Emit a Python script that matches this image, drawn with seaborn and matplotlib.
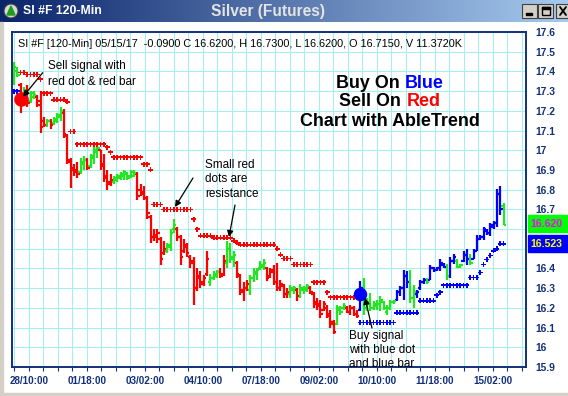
import numpy as np
import pandas as pd
import matplotlib
matplotlib.use("Agg")
import matplotlib.pyplot as plt
import seaborn as sns
from matplotlib.patches import Rectangle, Circle, Polygon
from matplotlib.colors import LinearSegmentedColormap
from matplotlib.offsetbox import TextArea, HPacker, AnnotationBbox

# ---------------- data (120-min bars) ----------------
trend = (
    ["G", "G", "R", "G", "R", "G", "G", "R", "R", "R"] +
    ["G", "R", "G", "G", "G", "R", "R", "R", "R", "R"] +
    ["G", "G", "R", "G", "G", "G", "R", "R", "R", "R"] +
    ["G", "G", "G", "G", "G", "G", "G", "R", "R", "R"] +
    ["R", "R", "R", "R", "R", "R", "G", "G", "G", "R"] +
    ["R", "R", "R", "R", "R", "R", "R", "R", "R", "G"] +
    ["G", "G", "R", "R", "G", "G", "G", "R", "R", "R"] +
    ["R", "G", "G", "G", "G", "G", "R", "R", "R", "R"] +
    ["R", "R", "R", "G", "G", "R", "G", "G", "G", "R"] +
    ["R", "R", "R", "R", "R", "R", "R", "G", "G", "G"] +
    ["R", "R", "R", "R", "B", "G", "G", "G", "G", "G"] +
    ["G", "G", "G", "G", "G", "B", "B", "B", "B", "G"] +
    ["G", "B", "B", "B", "G", "B", "B", "B", "B", "B"] +
    ["G", "B", "B", "G", "G", "B", "B", "G", "B", "B"] +
    ["B", "B", "B", "B", "B", "B", "B", "G"]
)
opens = [
    17.36, 17.40, 17.33, 17.26, 17.30, 17.25, 17.27, 17.27, 17.25, 17.15,
    17.13, 17.15, 17.14, 17.15, 17.17, 17.19, 17.07, 16.94, 16.91, 16.90,
    16.89, 16.93, 16.95, 16.92, 16.96, 16.99, 17.00, 16.93, 16.87, 16.84,
    16.84, 16.85, 16.86, 16.87, 16.88, 16.87, 16.87, 16.88, 16.80, 16.79,
    16.76, 16.66, 16.56, 16.56, 16.55, 16.48, 16.49, 16.51, 16.60, 16.60,
    16.56, 16.49, 16.51, 16.46, 16.44, 16.30, 16.35, 16.33, 16.37, 16.33,
    16.35, 16.36, 16.38, 16.37, 16.43, 16.50, 16.45, 16.43, 16.36, 16.28,
    16.30, 16.29, 16.35, 16.37, 16.40, 16.41, 16.40, 16.36, 16.39, 16.33,
    16.30, 16.31, 16.27, 16.27, 16.29, 16.29, 16.26, 16.29, 16.29, 16.30,
    16.27, 16.23, 16.22, 16.19, 16.20, 16.17, 16.13, 16.12, 16.19, 16.20,
    16.20, 16.18, 16.20, 16.17, 16.19, 16.30, 16.20, 16.22, 16.20, 16.21,
    16.22, 16.23, 16.18, 16.20, 16.23, 16.24, 16.28, 16.30, 16.36, 16.33,
    16.25, 16.27, 16.30, 16.33, 16.34, 16.34, 16.40, 16.39, 16.40, 16.42,
    16.41, 16.36, 16.44, 16.44, 16.41, 16.44, 16.47, 16.45, 16.45, 16.49,
    16.55, 16.56, 16.59, 16.58, 16.61, 16.63, 16.78, 16.715,
]
highs = [
    17.45, 17.42, 17.34, 17.32, 17.33, 17.30, 17.30, 17.28, 17.30, 17.17,
    17.16, 17.16, 17.17, 17.19, 17.22, 17.21, 17.08, 16.96, 16.93, 16.94,
    16.96, 16.97, 16.96, 16.98, 17.02, 17.03, 17.00, 16.98, 16.90, 16.88,
    16.87, 16.88, 16.89, 16.90, 16.89, 16.90, 16.90, 16.89, 16.83, 16.82,
    16.77, 16.67, 16.60, 16.60, 16.56, 16.54, 16.53, 16.60, 16.65, 16.61,
    16.57, 16.55, 16.53, 16.47, 16.46, 16.40, 16.385, 16.365, 16.49, 16.37,
    16.385, 16.39, 16.40, 16.47, 16.54, 16.53, 16.49, 16.44, 16.37, 16.33,
    16.34, 16.365, 16.40, 16.40, 16.44, 16.45, 16.41, 16.40, 16.42, 16.43,
    16.34, 16.32, 16.30, 16.315, 16.31, 16.30, 16.32, 16.31, 16.32, 16.31,
    16.28, 16.25, 16.24, 16.235, 16.215, 16.19, 16.14, 16.215, 16.21, 16.225,
    16.21, 16.215, 16.21, 16.19, 16.335, 16.35, 16.25, 16.275, 16.235, 16.24,
    16.26, 16.235, 16.215, 16.24, 16.24, 16.29, 16.31, 16.39, 16.385, 16.39,
    16.315, 16.29, 16.34, 16.35, 16.35, 16.42, 16.41, 16.41, 16.45, 16.43,
    16.425, 16.46, 16.475, 16.45, 16.425, 16.49, 16.50, 16.475, 16.50, 16.57,
    16.57, 16.61, 16.60, 16.63, 16.64, 16.805, 16.82, 16.73,
]
lows = [
    17.33, 17.37, 17.19, 17.25, 17.22, 17.24, 17.26, 17.22, 17.09, 17.12,
    17.12, 17.11, 17.13, 17.14, 17.15, 17.06, 16.93, 16.81, 16.87, 16.86,
    16.88, 16.90, 16.90, 16.91, 16.93, 16.96, 16.90, 16.84, 16.80, 16.82,
    16.83, 16.84, 16.85, 16.85, 16.85, 16.86, 16.865, 16.745, 16.77, 16.75,
    16.65, 16.53, 16.54, 16.53, 16.42, 16.47, 16.48, 16.49, 16.58, 16.54,
    16.42, 16.48, 16.46, 16.40, 16.215, 16.285, 16.30, 16.31, 16.36, 16.31,
    16.34, 16.35, 16.35, 16.36, 16.40, 16.43, 16.41, 16.35, 16.265, 16.235,
    16.285, 16.265, 16.33, 16.34, 16.39, 16.39, 16.335, 16.35, 16.315, 16.285,
    16.285, 16.25, 16.25, 16.25, 16.27, 16.235, 16.25, 16.27, 16.28, 16.27,
    16.20, 16.19, 16.15, 16.185, 16.15, 16.10, 16.065, 16.115, 16.165, 16.19,
    16.175, 16.165, 16.16, 16.15, 16.185, 16.165, 16.185, 16.185, 16.19, 16.19,
    16.185, 16.19, 16.165, 16.19, 16.22, 16.235, 16.26, 16.24, 16.30, 16.225,
    16.20, 16.25, 16.29, 16.32, 16.32, 16.34, 16.38, 16.385, 16.385, 16.40,
    16.34, 16.35, 16.425, 16.40, 16.40, 16.435, 16.42, 16.42, 16.45, 16.49,
    16.545, 16.545, 16.57, 16.565, 16.60, 16.61, 16.67, 16.62,
]
closes = [
    17.42, 17.38, 17.25, 17.30, 17.24, 17.29, 17.28, 17.23, 17.12, 17.13,
    17.15, 17.13, 17.16, 17.18, 17.20, 17.08, 16.95, 16.90, 16.89, 16.88,
    16.94, 16.95, 16.91, 16.97, 17.00, 17.01, 16.92, 16.86, 16.83, 16.85,
    16.86, 16.87, 16.88, 16.89, 16.86, 16.89, 16.885, 16.77, 16.78, 16.76,
    16.68, 16.56, 16.57, 16.58, 16.45, 16.50, 16.52, 16.58, 16.62, 16.56,
    16.46, 16.52, 16.48, 16.43, 16.30, 16.36, 16.32, 16.35, 16.45, 16.35,
    16.37, 16.38, 16.36, 16.44, 16.50, 16.46, 16.47, 16.37, 16.29, 16.30,
    16.32, 16.35, 16.38, 16.39, 16.42, 16.43, 16.35, 16.38, 16.33, 16.30,
    16.32, 16.27, 16.28, 16.30, 16.30, 16.26, 16.30, 16.30, 16.31, 16.28,
    16.22, 16.21, 16.17, 16.22, 16.16, 16.12, 16.08, 16.20, 16.18, 16.21,
    16.18, 16.20, 16.17, 16.16, 16.30, 16.20, 16.23, 16.20, 16.22, 16.22,
    16.24, 16.20, 16.20, 16.23, 16.235, 16.28, 16.30, 16.36, 16.33, 16.25,
    16.28, 16.28, 16.33, 16.34, 16.33, 16.40, 16.39, 16.40, 16.43, 16.41,
    16.36, 16.44, 16.46, 16.41, 16.42, 16.47, 16.45, 16.43, 16.49, 16.55,
    16.56, 16.60, 16.58, 16.62, 16.63, 16.78, 16.70, 16.62,
]
# resistance (red) dots start at bar 2, support (blue) dots at bars 0-1 and from bar 104
red_dot_start = 2
red_dots = (
    [17.395] * 2 + [17.385] * 4 + [17.36] + [17.29] * 3 + [17.255] * 4 +
    [17.245] + [17.095] * 2 + [17.03] * 9 + [17.015] + [16.99] +
    [16.965] * 9 + [16.93] * 2 + [16.90] + [16.725] * 3 + [16.70] * 9 +
    [16.65] + [16.60] + [16.565] * 4 + [16.555] * 6 + [16.54] + [16.53] +
    [16.52] * 11 + [16.50] + [16.47] + [16.45] * 3 + [16.42] * 6 +
    [16.33] * 4 + [16.28] + [16.255] * 9
)
blue_dot_idx_early = [0, 1]
blue_dots_early = [17.30, 17.30]
blue_dot_start = 104
blue_dots = (
    [16.125] * 11 + [16.175] * 7 + [16.235] * 5 + [16.265] + [16.28] +
    [16.315] * 8 + [16.355] * 3 + [16.38] + [16.42] + [16.445] + [16.465] +
    [16.49] + [16.50] + [16.525] * 2
)
sell_signal = (2, 17.26)
buy_signal = (104, 16.27)
y_tick_values = [17.6, 17.5, 17.4, 17.3, 17.2, 17.1, 17.0, 16.9, 16.8, 16.7,
                 16.6, 16.5, 16.4, 16.3, 16.2, 16.1, 16.0, 15.9]
y_tick_labels = ["17.6", "17.5", "17.4", "17.3", "17.2", "17.1", "17", "16.9", "16.8",
                 "16.7", "", "", "16.4", "16.3", "16.2", "16.1", "16", "15.9"]
x_labels = ["28/10:00", "01/18:00", "03/02:00", "04/10:00", "07/18:00",
            "09/02:00", "10/10:00", "11/18:00", "15/02:00"]
last_close_label = "16.620"
last_stop_label = "16.523"
info_text = ("SI #F [120-Min] 05/15/17  -0.0900 C 16.6200, H 16.7300, "
             "L 16.6200, O 16.7150, V 11.3720K")

# ---------------- style ----------------
sns.set_theme(style="white")
plt.rcParams["font.family"] = ["Liberation Sans", "DejaVu Sans"]

NAVY = "#12307A"
GRID = "#A8EEEE"
palette = {"G": "#22E622", "R": "#FF0000", "B": "#0000FF"}

n = len(closes)
bars = pd.DataFrame({"idx": np.arange(n), "open": opens, "high": highs,
                     "low": lows, "close": closes, "trend": trend})
bar_colors = bars["trend"].map(palette).tolist()

dots = pd.concat([
    pd.DataFrame({"idx": np.arange(red_dot_start, red_dot_start + len(red_dots)),
                  "value": red_dots, "kind": "res"}),
    pd.DataFrame({"idx": blue_dot_idx_early, "value": blue_dots_early, "kind": "sup"}),
    pd.DataFrame({"idx": np.arange(blue_dot_start, blue_dot_start + len(blue_dots)),
                  "value": blue_dots, "kind": "sup"}),
], ignore_index=True)

W, H = 568, 396
fig = plt.figure(figsize=(W / 100, H / 100), dpi=100)
fig.patch.set_facecolor("white")

# chrome layer in pixel coordinates
chrome = fig.add_axes([0, 0, 1, 1], zorder=0)
cmap = LinearSegmentedColormap.from_list("tb", ["#0A246A", "#A6CAF0"])
chrome.imshow(np.linspace(0, 1, 256).reshape(1, -1), extent=[0, W, 22, 0],
              aspect="auto", cmap=cmap, zorder=1)
chrome.set_xlim(0, W)
chrome.set_ylim(H, 0)
chrome.axis("off")
# left / bottom window frame
chrome.add_patch(Rectangle((0, 22), 3, H - 22, color="#D4D0C8", zorder=1))
chrome.add_patch(Rectangle((0, H - 3), W, 3, color="#D4D0C8", zorder=1))
# icon
chrome.add_patch(Circle((11, 11), 7, facecolor="#D8D8D8", edgecolor="#404040", lw=0.8, zorder=2))
chrome.add_patch(Polygon([[7, 15], [15, 15], [11, 6]], closed=True, color="#1E9E1E", zorder=3))
chrome.text(23, 11.5, "SI #F 120-Min", color="white", fontsize=8.8, fontweight="bold",
            ha="left", va="center", zorder=3)
chrome.text(268, 11.5, "Silver (Futures)", color="#E4E4E4", fontsize=11.2, fontweight="bold",
            ha="center", va="center", zorder=3)
# window buttons
for bx in (522, 538, 556):
    chrome.add_patch(Rectangle((bx, 4), 15, 14, facecolor="#D4D0C8", edgecolor="#404040",
                               lw=0.8, zorder=3))
chrome.add_patch(Rectangle((526, 13), 6, 2, color="black", zorder=4))
chrome.add_patch(Rectangle((542, 7), 8, 8, facecolor="none", edgecolor="black", lw=1.0, zorder=4))
chrome.add_patch(Rectangle((542, 7), 8, 1.5, color="black", zorder=4))
chrome.plot([560, 566], [7, 15], color="black", lw=1.3, zorder=4)
chrome.plot([560, 566], [15, 7], color="black", lw=1.3, zorder=4)
# last price boxes
chrome.add_patch(Rectangle((528, 215), 40, 17, color="#00FF00", zorder=2))
chrome.text(530, 224, last_close_label, color="#FF00FF", fontsize=7.6, fontweight="bold",
            ha="left", va="center", zorder=3)
chrome.add_patch(Rectangle((528, 235), 40, 17, color="#0000FF", zorder=2))
chrome.text(530, 244, last_stop_label, color="#FFFF00", fontsize=7.6, fontweight="bold",
            ha="left", va="center", zorder=3)

# ---------------- main chart ----------------
ax = fig.add_axes([12 / W, (H - 367) / H, (526 - 12) / W, (367 - 32) / H], zorder=1)
ax.set_facecolor("white")
ax.set_xlim(-0.6, 153.75)
ax.set_ylim(15.9, 17.6)

tick_pos = 0.15 + 4.354 * np.arange(36)
ax.set_xticks(tick_pos)
ax.set_xticklabels(["" if (k - 1) % 4 else x_labels[(k - 1) // 4] for k in range(36)])
ax.set_yticks(y_tick_values)
ax.set_yticklabels(y_tick_labels)
ax.yaxis.tick_right()
ax.grid(True, color=GRID, lw=0.8)
ax.set_axisbelow(True)
ax.tick_params(axis="y", length=0, pad=6.5, labelsize=7.4, labelcolor=NAVY)
ax.tick_params(axis="x", bottom=True, length=3, width=0.8, color=NAVY, direction="out",
               pad=3.2, labelsize=7.1, labelcolor=NAVY)
for lbl in ax.get_xticklabels() + ax.get_yticklabels():
    lbl.set_fontweight("bold")
for sp in ax.spines.values():
    sp.set_visible(True)
    sp.set_color(NAVY)
    sp.set_linewidth(1.4)

# OHLC bars
lw_bar = 1.6
ax.vlines(bars["idx"], bars["low"], bars["high"], colors=bar_colors, lw=lw_bar, zorder=2)
ax.hlines(bars["open"], bars["idx"] - 0.7, bars["idx"], colors=bar_colors, lw=lw_bar, zorder=2)
ax.hlines(bars["close"], bars["idx"], bars["idx"] + 0.7, colors=bar_colors, lw=lw_bar, zorder=2)

# trend-stop dots
sns.scatterplot(data=dots, x="idx", y="value", hue="kind",
                palette={"res": "#FF0000", "sup": "#0000FF"}, marker="P", s=13,
                linewidth=0, legend=False, ax=ax, zorder=3)
# signal dots
sns.scatterplot(x=[sell_signal[0]], y=[sell_signal[1]], color="#FF0000", s=110,
                linewidth=0, legend=False, ax=ax, zorder=6)
sns.scatterplot(x=[buy_signal[0]], y=[buy_signal[1]], color="#0000FF", s=95,
                linewidth=0, legend=False, ax=ax, zorder=6)
ax.set_xlabel("")
ax.set_ylabel("")

# ---------------- overlay text (pixel coordinates) ----------------
top = fig.add_axes([0, 0, 1, 1], zorder=5)
top.set_xlim(0, W)
top.set_ylim(H, 0)
top.axis("off")
top.patch.set_visible(False)

top.text(18, 44, info_text, fontsize=7.8, color="black", ha="left", va="center")

ann_fs = 8.5
for txt, y in (("Sell signal with", 66), ("red dot & red bar", 82)):
    top.text(48, y, txt, fontsize=ann_fs, color="black", ha="left", va="center")
for txt, y in (("Small red", 165), ("dots are", 179.5), ("resistance", 194)):
    top.text(205, y, txt, fontsize=ann_fs, color="black", ha="left", va="center")
for txt, y in (("Buy signal", 336), ("with blue dot", 350), ("and blue bar", 364)):
    top.text(349, y, txt, fontsize=ann_fs, color="black", ha="left", va="center")

arrow_kw = dict(arrowstyle="-|>", color="black", lw=0.9, mutation_scale=9,
                shrinkA=0, shrinkB=0)
for tail, head in (((42.7, 72.7), (23, 96.7)), ((193, 178), (175, 207)),
                   ((235, 205), (229, 237)), ((372, 328), (365, 298))):
    top.annotate("", xy=head, xytext=tail, arrowprops=arrow_kw)

leg_fs = 12.9
def colored_line(parts, y):
    areas = [TextArea(t, textprops=dict(color=c, fontsize=leg_fs, fontweight="bold"))
             for t, c in parts]
    box = HPacker(children=areas, pad=0, sep=4, align="baseline")
    ab = AnnotationBbox(box, (390, y), xycoords="data", frameon=False,
                        box_alignment=(0.5, 0.5), pad=0)
    top.add_artist(ab)

colored_line([("Buy On", "black"), ("Blue", "#0000FF")], 83)
colored_line([("Sell On", "black"), ("Red", "#FF0000")], 102)
colored_line([("Chart with AbleTrend", "black")], 121)

fig.savefig("out.png", dpi=100, facecolor="white")
